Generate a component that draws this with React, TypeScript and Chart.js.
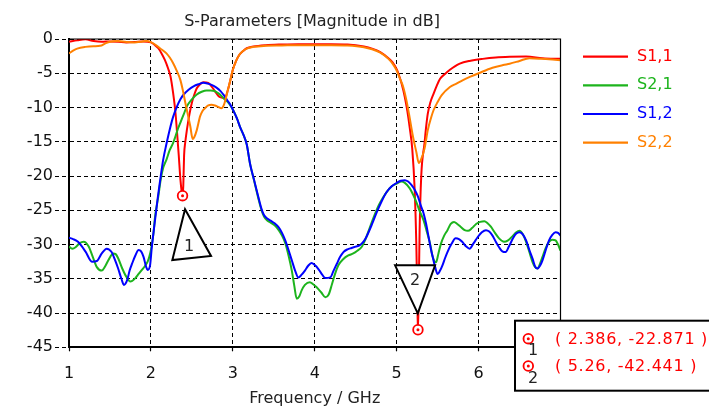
import React, { useEffect, useRef } from "react";
import { Chart, registerables } from "chart.js";

Chart.register(...registerables);

const seriesNames = ["S1,1", "S2,1", "S1,2", "S2,2"];
const seriesColors = ["#ff0000", "#1db41d", "#0000ff", "#ff8000"];
const xTickValues = [1, 2, 3, 4, 5, 6, 7];
const titleText = "S-Parameters [Magnitude in dB]";
const xTitle = "Frequency / GHz";

const markerFreq = [2.386, 5.26];
const markerDb = [-22.871, -42.441];
const markerLabels = ["1", "2"];

const s11Freq = [1.0, 1.1, 1.2, 1.3, 1.4, 1.5, 1.6, 1.7, 1.8, 1.9, 2.0, 2.05, 2.09, 2.13, 2.17, 2.21, 2.24, 2.27, 2.3, 2.32, 2.34, 2.36, 2.375, 2.386, 2.395, 2.405, 2.42, 2.44, 2.47, 2.5, 2.53, 2.56, 2.6, 2.64, 2.7, 2.74, 2.78, 2.83, 2.88, 2.9, 2.94, 2.97, 3.0, 3.04, 3.08, 3.13, 3.17, 3.25, 3.4, 3.6, 3.8, 4.0, 4.2, 4.4, 4.6, 4.7, 4.8, 4.9, 4.95, 5.0, 5.02, 5.06, 5.1, 5.13, 5.16, 5.19, 5.22, 5.24, 5.255, 5.26, 5.268, 5.28, 5.3, 5.34, 5.36, 5.38, 5.41, 5.45, 5.49, 5.53, 5.59, 5.65, 5.71, 5.77, 5.89, 6.05, 6.21, 6.38, 6.58, 6.78, 7.0];
const s11Db = [-0.4, -0.2, -0.05, -0.3, -0.4, -0.35, -0.4, -0.5, -0.45, -0.35, -0.5, -0.9, -1.35, -2.1, -3.05, -4.3, -5.5, -7.8, -10.8, -13.8, -17, -20.5, -22.2, -22.871, -21.5, -17, -15, -13.2, -11, -9.3, -8.1, -7.2, -6.6, -6.3, -6.4, -6.9, -7.6, -8.4, -8.6, -8.7, -7.4, -6.0, -4.5, -3.2, -2.3, -1.7, -1.35, -1.1, -0.9, -0.8, -0.75, -0.75, -0.75, -0.8, -1.1, -1.4, -1.9, -2.8, -3.4, -4.4, -5.0, -6.5, -8.5, -10.5, -13, -16, -22, -30, -40, -42.441, -38, -28, -20, -15.2, -12.8, -10.9, -9.3, -8.0, -6.8, -5.8, -5.1, -4.5, -4.0, -3.6, -3.2, -2.9, -2.7, -2.6, -2.55, -2.8, -2.9];

const s22Freq = [1.0, 1.05, 1.1, 1.2, 1.3, 1.38, 1.45, 1.5, 1.6, 1.7, 1.8, 1.9, 1.95, 2.0, 2.05, 2.11, 2.19, 2.23, 2.27, 2.31, 2.36, 2.39, 2.42, 2.45, 2.48, 2.51, 2.53, 2.56, 2.6, 2.63, 2.66, 2.7, 2.74, 2.78, 2.82, 2.86, 2.88, 2.9, 2.94, 2.97, 3.0, 3.04, 3.08, 3.12, 3.17, 3.25, 3.4, 3.6, 3.8, 4.0, 4.2, 4.4, 4.6, 4.7, 4.8, 4.9, 4.95, 5.0, 5.04, 5.08, 5.12, 5.15, 5.2, 5.24, 5.27, 5.3, 5.34, 5.38, 5.42, 5.45, 5.5, 5.55, 5.65, 5.73, 5.81, 5.9, 6.0, 6.17, 6.3, 6.38, 6.5, 6.62, 6.78, 6.9, 7.0];
const s22Db = [-2.1, -1.7, -1.4, -1.15, -1.05, -1.0, -0.6, -0.4, -0.3, -0.45, -0.5, -0.35, -0.3, -0.45, -0.8, -1.35, -2.1, -2.7, -3.5, -4.5, -6.0, -7.5, -9.3, -11.0, -12.7, -14.6, -14.3, -13.3, -11.3, -10.5, -10.1, -9.7, -9.6, -9.7, -9.9, -10.1, -9.9, -9.3, -7.4, -6.0, -4.5, -3.2, -2.3, -1.8, -1.4, -1.15, -1.0, -0.95, -0.9, -0.9, -0.9, -0.95, -1.2, -1.5, -2.0, -2.9, -3.6, -4.6, -5.8, -7.0, -9.0, -10.9, -14.3, -16.5, -18.1, -17.5, -16.0, -13.3, -11.5, -10.4, -9.2, -8.2, -7.0, -6.5, -6.0, -5.5, -5.0, -4.2, -3.8, -3.6, -3.2, -2.8, -2.9, -3.0, -3.1];

const s12Freq = [1.0, 1.05, 1.11, 1.2, 1.28, 1.34, 1.4, 1.46, 1.52, 1.56, 1.6, 1.64, 1.67, 1.71, 1.74, 1.77, 1.81, 1.85, 1.88, 1.91, 1.94, 1.96, 1.99, 2.01, 2.03, 2.06, 2.08, 2.12, 2.15, 2.19, 2.23, 2.27, 2.32, 2.36, 2.4, 2.46, 2.52, 2.58, 2.64, 2.69, 2.74, 2.8, 2.85, 2.89, 2.93, 2.97, 3.0, 3.05, 3.09, 3.13, 3.17, 3.21, 3.26, 3.31, 3.35, 3.38, 3.42, 3.46, 3.51, 3.56, 3.6, 3.64, 3.68, 3.72, 3.76, 3.8, 3.84, 3.88, 3.92, 3.96, 4.0, 4.04, 4.08, 4.13, 4.19, 4.23, 4.27, 4.31, 4.35, 4.4, 4.45, 4.5, 4.55, 4.6, 4.63, 4.7, 4.76, 4.82, 4.88, 4.94, 5.0, 5.05, 5.1, 5.14, 5.18, 5.22, 5.26, 5.3, 5.33, 5.36, 5.39, 5.42, 5.44, 5.47, 5.5, 5.53, 5.56, 5.59, 5.62, 5.67, 5.72, 5.76, 5.8, 5.85, 5.89, 5.94, 5.99, 6.04, 6.09, 6.13, 6.17, 6.21, 6.25, 6.29, 6.33, 6.37, 6.42, 6.46, 6.5, 6.54, 6.58, 6.62, 6.66, 6.69, 6.72, 6.75, 6.78, 6.82, 6.86, 6.9, 6.94, 6.97, 7.0];
const s12Db = [-29.0, -29.2, -29.6, -31.0, -32.5, -32.4, -31.3, -30.6, -31.1, -32.2, -33.5, -35.0, -35.9, -35.2, -33.8, -32.8, -31.6, -30.8, -31.0, -31.8, -33.2, -33.7, -33.0, -30.5, -28.4, -25.5, -23.5, -20.0, -17.6, -15.3, -13.2, -11.4, -9.8, -8.8, -8.1, -7.4, -6.9, -6.6, -6.4, -6.5, -6.7, -7.1, -7.6, -8.2, -8.9, -9.6, -10.3, -11.6, -12.9, -14.0, -15.4, -18.2, -20.6, -23.0, -24.8, -25.7, -26.2, -26.5, -26.9, -27.5, -28.3, -29.4, -30.8, -32.3, -33.8, -34.8, -34.4, -33.8, -33.1, -32.7, -33.0, -33.5, -34.2, -34.9, -34.8, -33.8, -32.8, -31.8, -31.1, -30.7, -30.5, -30.3, -30.1, -29.5, -28.9, -27.0, -25.2, -23.6, -22.3, -21.5, -21.0, -20.7, -20.6, -20.8, -21.3, -22.0, -23.0, -24.5, -25.5, -27.0, -28.9, -30.8, -31.8, -33.3, -34.3, -33.8, -33.0, -32.0, -31.1, -29.9, -29.1, -29.2, -29.6, -30.3, -30.6, -29.8, -28.9, -28.2, -27.9, -28.1, -28.7, -29.6, -30.4, -31.0, -31.1, -30.3, -29.1, -28.4, -28.2, -28.5, -29.4, -30.8, -32.1, -33.2, -33.5, -33.1, -32.3, -30.8, -29.4, -28.6, -28.2, -28.3, -28.7];

const s21Freq = [1.0, 1.04, 1.08, 1.13, 1.18, 1.24, 1.29, 1.34, 1.4, 1.44, 1.48, 1.54, 1.57, 1.6, 1.65, 1.69, 1.75, 1.81, 1.85, 1.89, 1.93, 1.96, 1.98, 2.0, 2.03, 2.05, 2.09, 2.12, 2.15, 2.19, 2.23, 2.27, 2.3, 2.33, 2.36, 2.4, 2.44, 2.5, 2.56, 2.62, 2.68, 2.73, 2.78, 2.82, 2.86, 2.9, 2.93, 2.97, 3.0, 3.05, 3.09, 3.13, 3.17, 3.21, 3.26, 3.31, 3.35, 3.38, 3.42, 3.46, 3.51, 3.56, 3.6, 3.64, 3.68, 3.72, 3.75, 3.78, 3.81, 3.84, 3.88, 3.94, 3.98, 4.02, 4.08, 4.13, 4.17, 4.21, 4.25, 4.29, 4.35, 4.41, 4.47, 4.52, 4.57, 4.62, 4.67, 4.72, 4.78, 4.83, 4.88, 4.94, 5.0, 5.06, 5.1, 5.16, 5.2, 5.24, 5.28, 5.33, 5.37, 5.41, 5.44, 5.48, 5.51, 5.54, 5.58, 5.62, 5.66, 5.7, 5.74, 5.78, 5.83, 5.87, 5.92, 5.97, 6.02, 6.07, 6.11, 6.15, 6.2, 6.25, 6.31, 6.36, 6.42, 6.46, 6.5, 6.54, 6.58, 6.62, 6.66, 6.69, 6.72, 6.75, 6.78, 6.82, 6.86, 6.9, 6.94, 6.97, 7.0];
const s21Db = [-30.3, -30.6, -30.4, -29.8, -29.6, -30.3, -31.8, -33.3, -33.8, -33.2, -32.3, -31.3, -31.4, -32.0, -33.5, -34.5, -35.4, -34.9, -34.3, -33.7, -33.1, -32.5, -31.8, -30.8, -28.5, -26.0, -23.0, -20.5, -18.8, -17.6, -16.2, -15.2, -14.2, -13.1, -12.2, -11.0, -9.8, -8.8, -8.1, -7.7, -7.5, -7.5, -7.6, -7.9, -8.3, -8.8, -9.1, -9.7, -10.3, -11.6, -12.9, -14.0, -15.4, -18.2, -20.7, -23.2, -25.0, -25.9, -26.5, -26.8, -27.2, -27.9, -28.7, -29.8, -31.6, -33.8, -36.0, -37.9, -37.6, -36.7, -35.9, -35.5, -35.8, -36.2, -37.0, -37.7, -37.3, -35.8, -34.2, -33.0, -32.1, -31.6, -31.3, -30.9, -30.4, -29.2, -27.6, -26.0, -24.3, -23.2, -22.3, -21.5, -21.1, -20.8, -21.0, -21.8, -22.7, -23.8, -25.1, -26.5, -28.2, -30.0, -31.8, -32.6, -31.3, -29.9, -28.7, -27.9, -27.0, -26.7, -27.0, -27.4, -27.9, -28.0, -27.6, -27.0, -26.7, -26.6, -26.9, -27.4, -28.3, -29.1, -29.6, -29.4, -28.7, -28.2, -28.0, -28.5, -29.6, -31.1, -32.6, -33.3, -33.5, -32.8, -31.8, -30.5, -29.6, -29.3, -29.4, -30.0, -30.9];

const seriesFreqs = [s11Freq, s21Freq, s12Freq, s22Freq];
const seriesDbs = [s11Db, s21Db, s12Db, s22Db];
const drawOrder = [4, 3, 2, 1];

const FONT = "'DejaVu Sans', Verdana, sans-serif";

function drawMarkerIcon(ctx: CanvasRenderingContext2D, x: number, y: number) {
  ctx.save();
  ctx.setLineDash([]);
  ctx.fillStyle = "#fff";
  ctx.strokeStyle = "#ff0000";
  ctx.lineWidth = 1.8;
  ctx.beginPath();
  ctx.arc(x, y, 4.8, 0, Math.PI * 2);
  ctx.fill();
  ctx.stroke();
  ctx.fillStyle = "#ff0000";
  ctx.beginPath();
  ctx.arc(x, y, 1.5, 0, Math.PI * 2);
  ctx.fill();
  ctx.restore();
}

const overlayPlugin = {
  id: "overlay",
  afterDatasetsDraw(chart: any) {
    const ctx = chart.ctx as CanvasRenderingContext2D;
    const xs = chart.scales.x;
    const ys = chart.scales.y;
    const area = chart.chartArea;
    ctx.save();
    ctx.setLineDash([]);
    // top & right frame
    ctx.strokeStyle = "#000";
    ctx.lineWidth = 1.2;
    ctx.beginPath();
    ctx.moveTo(area.left, area.top);
    ctx.lineTo(area.right, area.top);
    ctx.lineTo(area.right, area.bottom);
    ctx.stroke();

    const px = markerFreq.map((f) => xs.getPixelForValue(f));
    const py = markerDb.map((d) => ys.getPixelForValue(d));
    ctx.lineWidth = 2;
    ctx.strokeStyle = "#000";
    ctx.fillStyle = "#fff";
    // marker 1 triangle (pointing up)
    ctx.beginPath();
    ctx.moveTo(px[0] + 2.5, py[0] + 13.6);
    ctx.lineTo(px[0] + 28.5, py[0] + 60.3);
    ctx.lineTo(px[0] - 10.2, py[0] + 64.3);
    ctx.closePath();
    ctx.fill();
    ctx.stroke();
    // marker 2 triangle (pointing down)
    ctx.beginPath();
    ctx.moveTo(px[1] - 0.2, py[1] - 16.4);
    ctx.lineTo(px[1] - 22.9, py[1] - 64.4);
    ctx.lineTo(px[1] + 17.1, py[1] - 64.4);
    ctx.closePath();
    ctx.fill();
    ctx.stroke();
    ctx.font = "16px " + FONT;
    ctx.fillStyle = "#222";
    ctx.textAlign = "center";
    ctx.textBaseline = "middle";
    ctx.fillText(markerLabels[0], px[0] + 6.5, py[0] + 51);
    ctx.fillText(markerLabels[1], px[1] - 3, py[1] - 49);

    for (let i = 0; i < px.length; i++) {
      drawMarkerIcon(ctx, px[i], py[i]);
    }
    ctx.restore();
  },
  afterDraw(chart: any) {
    const ctx = chart.ctx as CanvasRenderingContext2D;
    ctx.save();
    ctx.setLineDash([]);
    ctx.font = "16px " + FONT;
    ctx.fillStyle = "#222";
    ctx.textAlign = "center";
    ctx.textBaseline = "alphabetic";
    ctx.fillText(titleText, 312, 26);

    const legendY = [56.7, 85.3, 114, 142.7];
    for (let i = 0; i < seriesNames.length; i++) {
      ctx.strokeStyle = seriesColors[i];
      ctx.lineWidth = 2.2;
      ctx.beginPath();
      ctx.moveTo(583, legendY[i]);
      ctx.lineTo(628, legendY[i]);
      ctx.stroke();
      ctx.fillStyle = seriesColors[i];
      ctx.textAlign = "left";
      ctx.textBaseline = "middle";
      ctx.font = "16px " + FONT;
      ctx.fillText(seriesNames[i], 637, legendY[i]);
    }

    ctx.fillStyle = "#fff";
    ctx.fillRect(515, 320.7, 200, 70);
    ctx.strokeStyle = "#000";
    ctx.lineWidth = 2;
    ctx.strokeRect(515, 320.7, 200, 70);
    const rowY = [338.7, 366];
    for (let i = 0; i < markerFreq.length; i++) {
      drawMarkerIcon(ctx, 528.3, rowY[i]);
      ctx.fillStyle = "#222";
      ctx.textAlign = "center";
      ctx.textBaseline = "middle";
      ctx.font = "16px " + FONT;
      ctx.fillText(markerLabels[i], 533, rowY[i] + 12.5);
      ctx.fillStyle = "#ff0000";
      ctx.textAlign = "left";
      try { (ctx as any).letterSpacing = "0.7px"; } catch (e) {}
      ctx.fillText("( " + markerFreq[i] + ", " + markerDb[i] + " )", 555, rowY[i] + 1);
      try { (ctx as any).letterSpacing = "0px"; } catch (e) {}
    }
    ctx.restore();
  },
};

export default function App() {
  const canvasRef = useRef<HTMLCanvasElement | null>(null);

  useEffect(() => {
    document.body.style.margin = "0";
    const canvas = canvasRef.current;
    if (!canvas) return;
    const datasets = seriesNames.map((name, i) => ({
      label: name,
      data: seriesFreqs[i].map((f, j) => ({ x: f, y: seriesDbs[i][j] })),
      borderColor: seriesColors[i],
      backgroundColor: seriesColors[i],
      borderWidth: 2,
      pointRadius: 0,
      cubicInterpolationMode: "monotone",
      fill: false,
      order: drawOrder[i],
    }));
    const chart = new Chart(canvas, {
      type: "line",
      data: { datasets },
      plugins: [overlayPlugin],
      options: {
        animation: false,
        responsive: false,
        maintainAspectRatio: false,
        devicePixelRatio: 1,
        layout: { padding: { top: 39, right: 148.5, left: 0, bottom: 0 } },
        plugins: {
          legend: { display: false },
          title: { display: false },
          tooltip: { enabled: false },
        },
        scales: {
          x: {
            type: "linear",
            min: 1,
            max: 7,
            afterBuildTicks: (scale: any) => {
              scale.ticks = xTickValues.map((v) => ({ value: v }));
            },
            afterFit: (scale: any) => {
              scale.height = 60.7;
            },
            ticks: {
              color: "#111",
              font: { family: FONT, size: 16 },
              padding: 13,
              maxRotation: 0,
            },
            grid: {
              color: "#000",
              lineWidth: 1,
              tickLength: 4,
              tickColor: "#000",
              tickWidth: 1.2,
              tickBorderDash: [],
            },
            border: { display: true, color: "#000", width: 2, dash: [4, 3] },
            title: {
              display: true,
              text: xTitle,
              color: "#222",
              font: { family: FONT, size: 16 },
              padding: { top: 0, bottom: 0 },
            },
          },
          y: {
            type: "linear",
            min: -45,
            max: 0,
            ticks: {
              stepSize: 5,
              color: "#111",
              font: { family: FONT, size: 16 },
              padding: 2,
            },
            afterFit: (scale: any) => {
              scale.width = 69;
            },
            grid: {
              color: "#000",
              lineWidth: 1,
              tickLength: 14,
              tickColor: "#000",
              tickWidth: 1,
              tickBorderDash: [4, 3],
            },
            border: { display: true, color: "#000", width: 2, dash: [4, 3] },
          },
        },
      } as any,
    });
    return () => chart.destroy();
  }, []);

  return (
    <div style={{ position: "fixed", left: 0, top: 0, width: 709, height: 408, background: "#fff" }}>
      <canvas ref={canvasRef} width={709} height={408} style={{ width: 709, height: 408, display: "block" }} />
    </div>
  );
}
